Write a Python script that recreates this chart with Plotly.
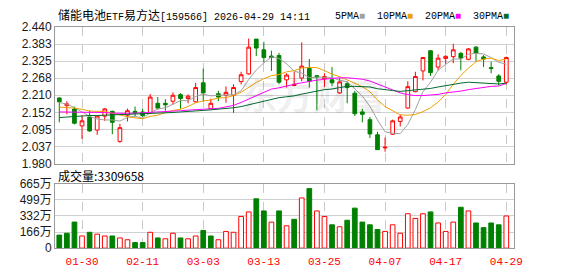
import plotly.graph_objects as go

# ---------------- data ----------------
title_text = "储能电池ETF易方达[159566] 2026-04-29 14:11"
volume_title = "成交量:3309658"
idx = list(range(60))
tick_idx = [3, 11, 19, 27, 35, 43, 51, 59]
tick_labels = ["01-30", "02-11", "03-03", "03-13", "03-25", "04-07", "04-17", "04-29"]

open_ = [2.201, 2.175, 2.164, 2.107, 2.137, 2.093, 2.140, 2.156, 2.055, 2.143,
         2.156, 2.154, 2.151, 2.183, 2.183, 2.190, 2.212, 2.199, 2.188, 2.252,
         2.165, 2.215, 2.210, 2.210, 2.256, 2.282, 2.399, 2.363, 2.342, 2.344,
         2.262, 2.243, 2.268, 2.300, 2.276, 2.266, 2.262, 2.218, 2.249, 2.217,
         2.154, 2.128, 2.077, 2.033, 2.079, 2.122, 2.167, 2.222, 2.292, 2.360,
         2.305, 2.334, 2.340, 2.351, 2.331, 2.372, 2.339, 2.303, 2.275, 2.254]
high = [2.203, 2.190, 2.172, 2.143, 2.158, 2.140, 2.167, 2.158, 2.114, 2.165,
        2.172, 2.165, 2.214, 2.204, 2.197, 2.220, 2.217, 2.213, 2.252, 2.300,
        2.199, 2.225, 2.240, 2.247, 2.289, 2.401, 2.399, 2.390, 2.360, 2.353,
        2.284, 2.289, 2.388, 2.332, 2.278, 2.284, 2.305, 2.268, 2.257, 2.225,
        2.165, 2.137, 2.087, 2.068, 2.128, 2.146, 2.257, 2.289, 2.339, 2.360,
        2.348, 2.345, 2.383, 2.356, 2.369, 2.376, 2.345, 2.323, 2.281, 2.340]
low = [2.119, 2.146, 2.112, 2.063, 2.087, 2.077, 2.124, 2.079, 2.050, 2.122,
       2.140, 2.137, 2.148, 2.162, 2.158, 2.178, 2.165, 2.183, 2.186, 2.190,
       2.162, 2.190, 2.185, 2.151, 2.247, 2.279, 2.342, 2.320, 2.292, 2.247,
       2.236, 2.241, 2.257, 2.236, 2.160, 2.238, 2.241, 2.215, 2.183, 2.140,
       2.119, 2.066, 2.027, 2.020, 2.077, 2.105, 2.165, 2.220, 2.260, 2.275,
       2.294, 2.316, 2.318, 2.294, 2.328, 2.323, 2.305, 2.284, 2.243, 2.247]
close = [2.188, 2.181, 2.116, 2.124, 2.090, 2.140, 2.164, 2.119, 2.101, 2.158,
         2.151, 2.142, 2.204, 2.167, 2.178, 2.210, 2.199, 2.207, 2.236, 2.218,
         2.183, 2.204, 2.220, 2.236, 2.279, 2.372, 2.369, 2.337, 2.337, 2.254,
         2.278, 2.247, 2.308, 2.257, 2.271, 2.273, 2.252, 2.255, 2.236, 2.148,
         2.146, 2.080, 2.027, 2.035, 2.124, 2.137, 2.239, 2.273, 2.337, 2.286,
         2.335, 2.341, 2.363, 2.335, 2.366, 2.351, 2.332, 2.300, 2.257, 2.337]

ma5 = [2.186, 2.180, 2.169, 2.155, 2.139, 2.130, 2.127, 2.127, 2.123, 2.136,
       2.139, 2.134, 2.151, 2.164, 2.168, 2.180, 2.192, 2.192, 2.206, 2.214,
       2.208, 2.210, 2.212, 2.212, 2.225, 2.263, 2.295, 2.319, 2.339, 2.334,
       2.316, 2.291, 2.285, 2.269, 2.271, 2.270, 2.270, 2.260, 2.256, 2.232,
       2.207, 2.173, 2.127, 2.087, 2.082, 2.081, 2.112, 2.162, 2.222, 2.254,
       2.294, 2.314, 2.332, 2.332, 2.348, 2.351, 2.349, 2.337, 2.321, 2.315]
ma10 = [2.170, 2.169, 2.167, 2.163, 2.157, 2.156, 2.155, 2.150, 2.143, 2.138,
        2.134, 2.131, 2.139, 2.143, 2.152, 2.159, 2.163, 2.172, 2.185, 2.191,
        2.194, 2.201, 2.202, 2.209, 2.220, 2.236, 2.253, 2.266, 2.276, 2.280,
        2.289, 2.293, 2.302, 2.304, 2.303, 2.293, 2.281, 2.273, 2.262, 2.252,
        2.239, 2.222, 2.194, 2.172, 2.157, 2.144, 2.143, 2.145, 2.155, 2.168,
        2.187, 2.213, 2.247, 2.277, 2.301, 2.323, 2.332, 2.335, 2.327, 2.332]
ma20 = [2.154, 2.154, 2.154, 2.154, 2.154, 2.153, 2.152, 2.150, 2.149, 2.149,
        2.150, 2.151, 2.153, 2.154, 2.155, 2.156, 2.158, 2.160, 2.162, 2.164,
        2.164, 2.166, 2.171, 2.176, 2.186, 2.197, 2.208, 2.219, 2.231, 2.235,
        2.242, 2.247, 2.252, 2.257, 2.261, 2.264, 2.267, 2.269, 2.269, 2.266,
        2.264, 2.258, 2.248, 2.238, 2.230, 2.218, 2.212, 2.209, 2.209, 2.210,
        2.213, 2.218, 2.220, 2.224, 2.229, 2.233, 2.237, 2.240, 2.241, 2.250]
ma30 = [2.135, 2.137, 2.139, 2.141, 2.142, 2.142, 2.143, 2.143, 2.144, 2.145,
        2.145, 2.146, 2.148, 2.149, 2.150, 2.152, 2.154, 2.155, 2.157, 2.159,
        2.161, 2.163, 2.165, 2.168, 2.172, 2.178, 2.185, 2.191, 2.197, 2.202,
        2.205, 2.208, 2.214, 2.218, 2.224, 2.229, 2.231, 2.236, 2.240, 2.240,
        2.240, 2.238, 2.232, 2.228, 2.226, 2.223, 2.225, 2.227, 2.230, 2.233,
        2.238, 2.243, 2.248, 2.251, 2.254, 2.253, 2.252, 2.251, 2.248, 2.251]

# volume in 万 (10k)
volume = [134, 153, 268, 125, 163, 144, 125, 125, 105, 86,
          57, 57, 163, 105, 96, 153, 105, 96, 125, 182,
          125, 86, 172, 163, 326, 373, 508, 383, 268, 383,
          230, 297, 517, 613, 383, 326, 240, 220, 287, 412,
          268, 240, 192, 172, 240, 153, 354, 306, 354, 373,
          259, 172, 268, 421, 383, 259, 211, 259, 240, 331]
volume_dir = ["D", "D", "D", "U", "D", "U", "U", "D", "U", "U",
              "D", "D", "U", "D", "U", "U", "D", "U", "U", "D",
              "D", "U", "U", "U", "U", "U", "D", "D", "U", "D",
              "U", "D", "U", "D", "U", "U", "D", "U", "D", "D",
              "D", "D", "D", "U", "U", "U", "U", "U", "U", "D",
              "U", "U", "U", "D", "U", "D", "D", "D", "D", "U"]

price_ticks = [1.980, 2.0375, 2.095, 2.1525, 2.210, 2.2675, 2.325, 2.3825, 2.440]
price_tick_labels = ["1.980", "2.037", "2.095", "2.152", "2.210", "2.268", "2.325", "2.383", "2.440"]
vol_ticks = [0, 166, 332, 499, 665]
vol_tick_labels = ["0", "166万", "332万", "499万", "665万"]

ma_names = ["5PMA", "10PMA", "20PMA", "30PMA"]

# ---------------- style ----------------
RED = "#ff0000"
GREEN = "#008000"
MA_COLORS = ["#a0a0a0", "#f0a000", "#ff00ff", "#006a2e"]
W, H = 578, 276
L, R = 56, 522
MAIN_T, MAIN_B = 21, 165
VOL_T, VOL_B = 186, 254
GRID = "#d0d0d0"
FRAME = "#9a9a9a"

fig = go.Figure()

fig.add_trace(go.Candlestick(
    x=idx, open=open_, high=high, low=low, close=close,
    increasing=dict(line=dict(color=RED, width=1), fillcolor="#ffffff"),
    decreasing=dict(line=dict(color=GREEN, width=1), fillcolor=GREEN),
    whiskerwidth=0, xaxis="x", yaxis="y", showlegend=False, hoverinfo="skip",
))
for name, vals, col in zip(ma_names, [ma5, ma10, ma20, ma30], MA_COLORS):
    fig.add_trace(go.Scatter(x=idx, y=vals, mode="lines", name=name,
                             line=dict(color=col, width=1), xaxis="x", yaxis="y",
                             showlegend=False, hoverinfo="skip"))

fig.add_trace(go.Bar(
    x=idx, y=volume, width=0.62,
    marker=dict(color=["#ffffff" if d == "U" else GREEN for d in volume_dir],
                line=dict(color=[RED if d == "U" else GREEN for d in volume_dir], width=1)),
    xaxis="x2", yaxis="y2", showlegend=False, hoverinfo="skip",
))

xdom = [L / W, R / W]
fig.update_layout(
    width=W, height=H, margin=dict(l=0, r=0, t=0, b=0),
    paper_bgcolor="white", plot_bgcolor="white",
    font=dict(family="Liberation Sans, Noto Sans CJK SC", size=12, color="#1a1a1a"),
    xaxis=dict(domain=xdom, range=[-0.55, 60], anchor="y",
               tickvals=tick_idx, showticklabels=False, ticks="",
               showgrid=True, gridcolor="#c8c8c8", griddash="dash", gridwidth=1,
               showline=True, mirror=True, linecolor=FRAME, linewidth=1,
               zeroline=False, rangeslider=dict(visible=False), fixedrange=True),
    yaxis=dict(domain=[1 - MAIN_B / H, 1 - MAIN_T / H], range=[1.980, 2.440], anchor="x",
               tickvals=price_ticks, ticktext=price_tick_labels,
               showgrid=True, gridcolor=GRID, gridwidth=1,
               showline=True, mirror=True, linecolor=FRAME, linewidth=1,
               zeroline=False, ticks="", tickfont=dict(size=12, color="#1a1a1a")),
    xaxis2=dict(domain=xdom, range=[-0.55, 60], anchor="y2",
                tickvals=tick_idx, ticktext=tick_labels,
                tickfont=dict(family="Liberation Mono, monospace", size=11, color=RED),
                ticks="outside", ticklen=3, tickcolor="rgba(0,0,0,0)",
                showgrid=True, gridcolor="#c8c8c8", griddash="dash", gridwidth=1,
                showline=True, mirror=True, linecolor=FRAME, linewidth=1,
                zeroline=False, fixedrange=True),
    yaxis2=dict(domain=[1 - VOL_B / H, 1 - VOL_T / H], range=[0, 665], anchor="x2",
                tickvals=vol_ticks, ticktext=vol_tick_labels,
                showgrid=True, gridcolor=GRID, gridwidth=1,
                showline=True, mirror=True, linecolor=FRAME, linewidth=1,
                zeroline=False, ticks="", tickfont=dict(size=12, color="#1a1a1a")),
    bargap=0.3,
)

# watermark
fig.add_annotation(text="<b>东方财富</b>", xref="paper", yref="paper", x=318 / W, y=1 - 92 / H,
                   xanchor="center", yanchor="middle", showarrow=False,
                   font=dict(size=36, color="rgba(0,0,0,0.085)", family="Noto Sans CJK SC"))

# title
t = title_text
title_html = ('<span style="font-size:12px">储能电池</span>ETF'
              '<span style="font-size:12px">易方达</span>' + t[10:])
fig.add_annotation(text=title_html, xref="paper", yref="paper", x=57 / W, y=1 - 10 / H,
                   xanchor="left", yanchor="middle", showarrow=False,
                   font=dict(family="Liberation Mono, Noto Sans CJK SC", size=10, color="#000"))

# MA legend text (label followed by colour swatch)
legend_html = "  ".join(f'{n}<span style="color:{c}">■</span>' for n, c in zip(ma_names, MA_COLORS))
fig.add_annotation(text=legend_html, xref="paper", yref="paper", x=338 / W, y=1 - 10 / H,
                   xanchor="left", yanchor="middle", showarrow=False,
                   font=dict(family="Liberation Mono, DejaVu Sans", size=10, color="#000"))

# volume label
fig.add_annotation(text=volume_title, xref="paper", yref="paper", x=57 / W, y=1 - 177 / H,
                   xanchor="left", yanchor="middle", showarrow=False,
                   font=dict(family="Noto Sans CJK SC, Liberation Sans", size=12, color="#000"))

fig.write_html("out.html", config={"displayModeBar": False})
